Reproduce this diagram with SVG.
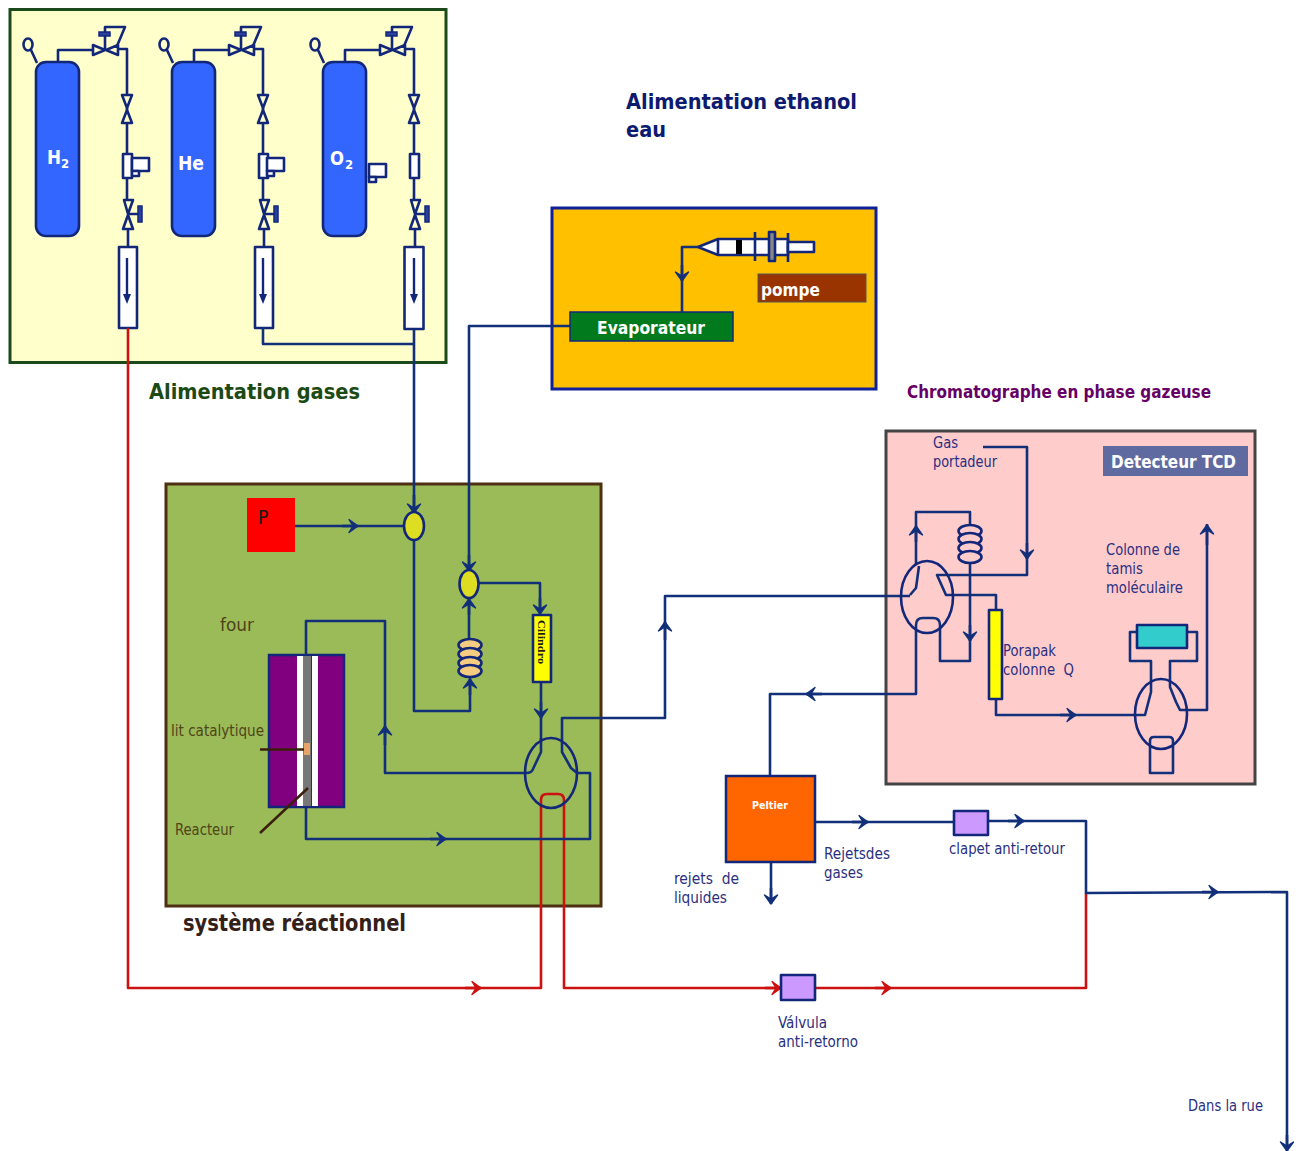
<svg xmlns="http://www.w3.org/2000/svg" xmlns:xlink="http://www.w3.org/1999/xlink" width="1301" height="1151" viewBox="0 0 1301 1151">
<style>
text{font-family:"DejaVu Sans","Open Sans",sans-serif;font-stretch:condensed}
.n{fill:none;stroke:#13277a;stroke-width:2.6;stroke-linejoin:round}
.nf{stroke:#13277a;stroke-width:2.6;stroke-linejoin:round}
.c{fill:none;stroke:#12307a;stroke-width:2.6;stroke-linejoin:round}
.r{fill:none;stroke:#cc1111;stroke-width:2.6;stroke-linejoin:round}
.h{fill:none;stroke:#12307a;stroke-width:2.6;marker-end:url(#an)}
.hr{fill:none;stroke:#cc1111;stroke-width:2.6;marker-end:url(#ar)}
.w{fill:#fff}
.lab{font-size:15px;fill:#2b2f80}
.brown{font-size:15px;fill:#4f4318}
.title{font-weight:700}
</style>
<defs>
<marker id="an" markerUnits="userSpaceOnUse" markerWidth="18" markerHeight="18" refX="12" refY="9" orient="auto" overflow="visible"><path d="M3 2.500L12 9L3 15.500L7 9Z" fill="#12307a" stroke="#12307a" stroke-width="1.400" stroke-linejoin="round"/></marker>
<marker id="ar" markerUnits="userSpaceOnUse" markerWidth="18" markerHeight="18" refX="12" refY="9" orient="auto" overflow="visible"><path d="M3 2.500L12 9L3 15.500L7 9Z" fill="#cc1111" stroke="#cc1111" stroke-width="1.400" stroke-linejoin="round"/></marker>
<g id="gasline">
  <ellipse cx="28" cy="44.500" rx="4.500" ry="6" fill="none" stroke="#13277a" stroke-width="2.600"/>
  <path class="n" d="M31 50L37 63M58 62V50H93M118 49H127V95M127 108V110M127 123V154M127 178V200M128 229V247"/>
  <path class="n" d="M105 50V36"/>
  <rect x="99" y="32" width="11" height="4" fill="#2a3f9e" stroke="#13277a" stroke-width="1.500"/>
  <path class="n" d="M105 32V27H125L117 46"/>
  <path class="n" d="M93 45V55L105 50ZM118 45V55L106 50Z"/>
  <path class="n" d="M122 95H132L127 108ZM122 123H132L127 110Z"/>
  <path class="n" d="M124 200H133L128 214ZM123 229H133L128 215ZM128 214H138"/>
  <rect x="138" y="206" width="4" height="16" fill="#2a3f9e" stroke="#13277a" stroke-width="1.500"/>
  <path d="M127 258V300" stroke="#13277a" stroke-width="2.400"/>
</g>
<g id="flow"><rect x="119" y="247" width="18" height="81" class="nf w"/><path d="M127 258V298" stroke="#13277a" stroke-width="2.400"/><path d="M123 294H131L127 304Z" fill="#13277a"/></g>
<g id="reg"><rect x="123" y="154" width="9" height="24" class="nf w"/></g>
<g id="regbox"><rect x="132" y="158" width="17" height="13" class="nf w"/><rect x="132" y="171" width="7" height="5" class="nf w"/></g>
<g id="coil">
  <ellipse cx="0" cy="6" rx="11.500" ry="6" fill="#f5cc80" class="nf"/>
  <ellipse cx="0" cy="15" rx="11.500" ry="6" fill="#f5cc80" class="nf"/>
  <ellipse cx="0" cy="24" rx="11.500" ry="6" fill="#f5cc80" class="nf"/>
  <ellipse cx="0" cy="32" rx="11.500" ry="6" fill="#f5cc80" class="nf"/>
</g>
<g id="coilp">
  <ellipse cx="0" cy="6" rx="11.500" ry="6" fill="#ffcccc" class="nf"/>
  <ellipse cx="0" cy="14" rx="11.500" ry="6" fill="#ffcccc" class="nf"/>
  <ellipse cx="0" cy="23" rx="11.500" ry="6" fill="#ffcccc" class="nf"/>
  <ellipse cx="0" cy="32" rx="11.500" ry="6" fill="#ffcccc" class="nf"/>
</g>
</defs>
<rect width="1301" height="1151" fill="#fff"/>

<g id="alimentation-gases">
  <rect x="10" y="9.500" width="436" height="353" fill="#ffffcc" stroke="#1d4a1a" stroke-width="3"/>
  <use href="#gasline"/><use href="#flow"/><use href="#reg"/><use href="#regbox"/>
  <use href="#gasline" x="136"/><use href="#flow" x="136"/><use href="#reg" x="136"/><use href="#regbox" x="135"/>
  <use href="#gasline" x="287"/><use href="#reg" x="287"/><use href="#regbox" x="237" y="6"/>
  <rect x="404.500" y="247" width="19" height="82" class="nf w"/><path d="M414 258V298" stroke="#13277a" stroke-width="2.400"/><path d="M410 294H418L414 304Z" fill="#13277a"/>
  <g id="cyl-h2"><rect x="36" y="62" width="43" height="174" rx="10" fill="#3366ff" class="nf"/><text x="47" y="164" font-size="20" font-weight="700" fill="#fff" textLength="14" lengthAdjust="spacingAndGlyphs">H</text><text x="61" y="168" font-size="13" font-weight="700" fill="#fff">2</text></g>
  <g id="cyl-he"><rect x="172" y="62" width="43" height="174" rx="10" fill="#3366ff" class="nf"/><text x="178" y="170" font-size="20" font-weight="700" fill="#fff" textLength="26" lengthAdjust="spacingAndGlyphs">He</text></g>
  <g id="cyl-o2"><rect x="323" y="62" width="43" height="174" rx="10" fill="#3366ff" class="nf"/><text x="330" y="165" font-size="20" font-weight="700" fill="#fff" textLength="14" lengthAdjust="spacingAndGlyphs">O</text><text x="345" y="169" font-size="13" font-weight="700" fill="#fff">2</text></g>
</g>
<text class="title" x="149" y="399" font-size="22" fill="#1b4a12" textLength="211" lengthAdjust="spacingAndGlyphs">Alimentation gases</text>

<text class="title" x="626" y="109" font-size="22" fill="#0c1a70" textLength="231" lengthAdjust="spacingAndGlyphs">Alimentation ethanol</text>
<text class="title" x="626" y="137" font-size="22" fill="#0c1a70" textLength="40" lengthAdjust="spacingAndGlyphs">eau</text>

<g id="evaporation-box">
  <rect x="552" y="208" width="324" height="181" fill="#ffc000" stroke="#10209a" stroke-width="3"/>
  <g id="pompe"><rect x="758" y="274" width="108" height="28" fill="#993300" stroke="#555"/><text x="761" y="296" font-size="18" font-weight="700" fill="#fff" textLength="59" lengthAdjust="spacingAndGlyphs">pompe</text></g>
  <g id="seringue">
    <path d="M698 247L718 239H788V255H718Z" class="nf w"/>
    <path d="M718 239V255" class="n"/>
    <rect x="736" y="240" width="6" height="14" fill="#000"/>
    <path d="M755 232V261M788 233V262" class="n"/>
    <rect x="769" y="232" width="6" height="29" fill="#888" class="nf"/>
    <rect x="788" y="242" width="26" height="10" class="nf w"/>
  </g>
  <g id="evaporateur"><rect x="570" y="312" width="163" height="29" fill="#007a1c" stroke="#13277a" stroke-width="1.500"/><text x="597" y="334" font-size="18" font-weight="700" fill="#fff" textLength="108" lengthAdjust="spacingAndGlyphs">Evaporateur</text></g>
</g>

<g id="systeme-reactionnel">
  <rect x="166" y="484" width="435" height="422" fill="#9bbb59" stroke="#4f2f12" stroke-width="3"/>
  <g id="manometre"><rect x="247" y="498" width="48" height="54" fill="#ff0000"/><text x="258" y="524" font-size="19" fill="#1a1a1a">P</text></g>
  <g id="four"><rect x="269" y="655" width="75" height="152" fill="#800080" stroke="#13277a" stroke-width="2.500"/>
    <rect x="297" y="656" width="6" height="150" fill="#fff"/>
    <rect x="312" y="656" width="6" height="150" fill="#fff"/>
    <rect x="303" y="656" width="8" height="150" fill="#777"/>
    <rect x="304" y="743" width="6" height="12" fill="#e8a468"/>
  </g>
  <path d="M260 749.500H304M260 833L308 788" fill="none" stroke="#3a1f0a" stroke-width="2.500"/>
  <text class="brown" x="220" y="631" textLength="34" lengthAdjust="spacingAndGlyphs" style="font-size:18px">four</text>
  <text class="brown" x="171" y="736" textLength="93" lengthAdjust="spacingAndGlyphs">lit catalytique</text>
  <text class="brown" x="175" y="835" textLength="59" lengthAdjust="spacingAndGlyphs">Reacteur</text>
</g>
<text class="title" x="183" y="931" font-size="23" fill="#33201a" textLength="223" lengthAdjust="spacingAndGlyphs">système réactionnel</text>

<text class="title" x="907" y="398" font-size="18" fill="#660066" textLength="304" lengthAdjust="spacingAndGlyphs">Chromatographe en phase gazeuse</text>

<g id="chromatographe">
  <rect x="886" y="431" width="369" height="353" fill="#ffcccc" stroke="#444" stroke-width="3"/>
  <g id="detecteur"><rect x="1103" y="446" width="145" height="30" fill="#5f6aa0"/><text x="1111" y="468" font-size="18" font-weight="700" fill="#fff" textLength="125" lengthAdjust="spacingAndGlyphs">Detecteur TCD</text></g>
  <text class="lab" x="933" y="448" textLength="25" lengthAdjust="spacingAndGlyphs">Gas</text>
  <text class="lab" x="933" y="467" textLength="64" lengthAdjust="spacingAndGlyphs">portadeur</text>
  <text class="lab" x="1106" y="555" textLength="74" lengthAdjust="spacingAndGlyphs">Colonne de</text>
  <text class="lab" x="1106" y="574" textLength="37" lengthAdjust="spacingAndGlyphs">tamis</text>
  <text class="lab" x="1106" y="593" textLength="77" lengthAdjust="spacingAndGlyphs">moléculaire</text>
</g>

<g id="connecteurs">
  <path class="r" d="M128 328V988H541V800Q541 794 547 794H558Q564 794 564 800V988H1086V893"/>
  <path class="hr" d="M465 988H481"/><path class="hr" d="M765 988H781"/><path class="hr" d="M875 988H891"/>
  <path class="c" d="M263 328V344H414M414 329V512"/>
  <path class="h" d="M414 495V513"/>
  <path class="c" d="M295 526H404"/><path class="h" d="M342 526H358"/>
  <path class="c" d="M414 540V711H470V678"/><path class="h" d="M470 695V679"/>
  <path class="c" d="M469 640V598"/><path class="h" d="M469 615V599"/>
  <path class="c" d="M570 326H469V570"/><path class="h" d="M469 555V571"/>
  <path class="c" d="M479 583H540V612"/><path class="h" d="M540 598V614"/>
  <path class="c" d="M541 682V740"/><path class="h" d="M541 702V718"/>
  <path class="c" d="M541 738V752L533 769Q532 773 526 773H385V621H306V655"/><path class="h" d="M385 745V726"/>
  <path class="c" d="M306 807V839H590V773H577L571 768L562 752V718H665V596H910"/>
  <path class="h" d="M430 839H446"/><path class="h" d="M665 640V622"/>
  <path class="c" d="M983 447H1027V575H937L946 595H996V610"/><path class="h" d="M1027 543V559"/>
  <path class="c" d="M910 595L916 588L919 566M916 565V512H970V525"/><path class="h" d="M916 542V526"/>
  <path class="c" d="M970 564V661H940V625Q940 618 933 618H923Q916 618 916 625V694H770V776"/>
  <path class="h" d="M970 625V641"/><path class="h" d="M822 694H806"/>
  <path class="c" d="M996 699V715H1145L1151 692V661H1130V632H1137M1187 632H1197V661H1170V687L1176 702L1180 710H1207V524"/>
  <path class="h" d="M1060 715H1076"/><path class="h" d="M1207 545V525"/>
  <path class="c" d="M1150 773V741Q1150 737 1154 737H1169Q1173 737 1173 741V773H1150Z"/>
  <path class="c" d="M815 822H954"/><path class="h" d="M852 822H868"/>
  <path class="c" d="M988 821H1086V893L1287 892V1150"/><path class="h" d="M1008 821H1024"/><path class="h" d="M1202 892H1218"/><path class="h" d="M1287 1135V1151"/>
  <path class="c" d="M771 862V903"/><path class="h" d="M771 888V904"/>
  <path class="c" d="M682 312V247H698"/><path class="h" d="M682 265V281"/>
</g>

<g id="vanne-1"><ellipse cx="414" cy="526" rx="10" ry="14" fill="#dddd22" class="nf"/></g>
<g id="vanne-2"><ellipse cx="469" cy="584" rx="9.500" ry="14" fill="#dddd22" class="nf"/></g>
<g id="serpentin-1"><use href="#coil" x="470" y="639"/></g>
<g id="serpentin-2"><use href="#coilp" x="970" y="525"/></g>
<g id="cilindro"><rect x="533" y="615" width="18" height="67" fill="#ffff00" class="nf"/><text transform="translate(538 620) rotate(90)" font-size="10" font-weight="700" fill="#1a1a1a" style="font-family:'Liberation Serif',serif;font-stretch:normal" textLength="44" lengthAdjust="spacingAndGlyphs">Cilindro</text></g>
<g id="vanne-six-voies-1"><ellipse cx="551" cy="773" rx="26" ry="35" class="n"/></g>
<g id="vanne-six-voies-2"><ellipse cx="927" cy="597" rx="26" ry="36" class="n"/></g>
<g id="vanne-six-voies-3"><ellipse cx="1161" cy="714" rx="26" ry="35" class="n"/></g>
<g id="porapak"><rect x="989" y="610" width="13" height="89" fill="#ffff00" class="nf"/>
  <text class="lab" x="1003" y="656" textLength="53" lengthAdjust="spacingAndGlyphs">Porapak</text>
  <text class="lab" x="1003" y="675" textLength="71" lengthAdjust="spacingAndGlyphs" xml:space="preserve">colonne  Q</text></g>
<g id="tamis"><rect x="1137" y="625" width="50" height="23" fill="#33cccc" class="nf"/></g>
<g id="peltier"><rect x="726" y="776" width="89" height="86" fill="#ff6600" stroke="#13277a" stroke-width="2.500"/><text x="752" y="809" font-size="11" font-weight="700" fill="#fff" textLength="36" lengthAdjust="spacingAndGlyphs">Peltier</text></g>
<g id="clapet"><rect x="954" y="811" width="34" height="24" fill="#cc99ff" class="nf"/></g>
<g id="valvula"><rect x="781" y="975" width="34" height="25" fill="#cc99ff" class="nf"/></g>

<text class="lab" x="674" y="884" textLength="65" lengthAdjust="spacingAndGlyphs" xml:space="preserve">rejets  de</text>
<text class="lab" x="674" y="903" textLength="53" lengthAdjust="spacingAndGlyphs">liquides</text>
<text class="lab" x="824" y="859" textLength="66" lengthAdjust="spacingAndGlyphs">Rejetsdes</text>
<text class="lab" x="824" y="878" textLength="39" lengthAdjust="spacingAndGlyphs">gases</text>
<text class="lab" x="949" y="854" textLength="116" lengthAdjust="spacingAndGlyphs">clapet anti-retour</text>
<text class="lab" x="778" y="1028" textLength="49" lengthAdjust="spacingAndGlyphs">Válvula</text>
<text class="lab" x="778" y="1047" textLength="80" lengthAdjust="spacingAndGlyphs">anti-retorno</text>
<text class="lab" x="1188" y="1111" textLength="75" lengthAdjust="spacingAndGlyphs">Dans la rue</text>
</svg>
